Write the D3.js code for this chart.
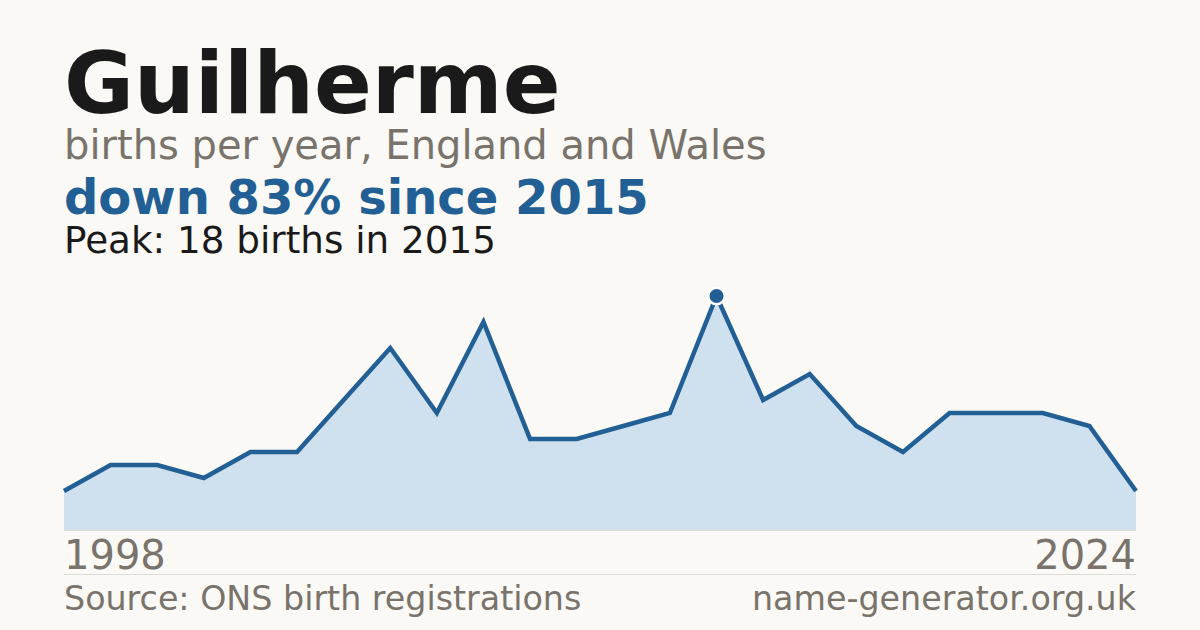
<!DOCTYPE html>
<html>
<head>
<meta charset="utf-8">
<script src="https://cdn.jsdelivr.net/npm/d3@7"></script>
<style>
  html, body { margin: 0; padding: 0; background: #faf9f5; }
  svg { display: block; font-family: 'DejaVu Sans', sans-serif; }
</style>
</head>
<body>
<svg width="1200" height="630"></svg>
<script>
// births per year (years with suppressed counts are absent)
const years = [1998, 2002, 2003, 2004, 2005, 2006, 2007, 2008, 2009, 2010, 2011, 2012,
               2013, 2014, 2015, 2016, 2017, 2018, 2019, 2020, 2021, 2022, 2023, 2024];
const births = [3, 5, 5, 4, 6, 6, 10, 14, 9, 16, 7, 7,
                8, 9, 18, 10, 12, 8, 6, 9, 9, 9, 8, 3];
const axisLabels = ['1998', '2024'];

const name = 'Guilherme';
const subtitle = 'births per year, England and Wales';
const headline = 'down 83% since 2015';
const peakNote = 'Peak: 18 births in 2015';
const sourceNote = 'Source: ONS birth registrations';
const siteNote = 'name-generator.org.uk';

(function (d3) {
    'use strict';
    const svg = d3.select('svg');
    const blue = '#225f94';
    const gray = '#79736b';

    const data = years.map((y, i) => ({ year: y, value: births[i] }));

    const x = d3.scalePoint()
        .domain(years)
        .range([64, 1136]);
    const y = d3.scaleLinear()
        .domain([0, d3.max(births)])
        .range([530, 296]);

    // headings
    const txt = (t, yy, size, weight, fill, anchor, xx) =>
        svg.append('text')
            .attr('x', xx || 64)
            .attr('y', yy)
            .attr('font-size', size)
            .attr('font-weight', weight)
            .attr('fill', fill)
            .attr('text-anchor', anchor || 'start')
            .text(t);

    txt(name, 113, 85.3, 'bold', '#1a1a1a');
    txt(subtitle, 159, 40, 'normal', gray);
    txt(headline, 214, 48, 'bold', blue);
    txt(peakNote, 253, 37.3, 'normal', '#1a1a1a');

    const area = d3.area()
        .x(d => x(d.year))
        .y0(y(0))
        .y1(d => y(d.value));
    const line = d3.line()
        .x(d => x(d.year))
        .y(d => y(d.value));

    svg.append('path')
        .datum(data)
        .attr('d', area)
        .attr('fill', '#cfe0ef');

    svg.append('line')
        .attr('x1', 64).attr('x2', 1136)
        .attr('y1', 530.5).attr('y2', 530.5)
        .attr('stroke', '#dcdad4')
        .attr('stroke-width', 1);

    svg.append('path')
        .datum(data)
        .attr('d', line)
        .attr('fill', 'none')
        .attr('stroke', blue)
        .attr('stroke-width', 4.5)
        .attr('stroke-linejoin', 'miter');

    // peak marker
    const peak = data.reduce((a, b) => (b.value > a.value ? b : a));
    svg.append('circle')
        .attr('cx', x(peak.year))
        .attr('cy', y(peak.value))
        .attr('r', 9.5)
        .attr('fill', '#ffffff');
    svg.append('circle')
        .attr('cx', x(peak.year))
        .attr('cy', y(peak.value))
        .attr('r', 7)
        .attr('fill', blue);

    // axis end labels
    txt(axisLabels[0], 569, 40, 'normal', gray, 'start', 64);
    txt(axisLabels[1], 569, 40, 'normal', gray, 'end', 1136);

    svg.append('line')
        .attr('x1', 64).attr('x2', 1136)
        .attr('y1', 574.5).attr('y2', 574.5)
        .attr('stroke', '#dcdad4')
        .attr('stroke-width', 1);

    txt(sourceNote, 610, 33.3, 'normal', gray, 'start', 64);
    txt(siteNote, 610, 33.3, 'normal', gray, 'end', 1136);
}(d3));
</script>
</body>
</html>
